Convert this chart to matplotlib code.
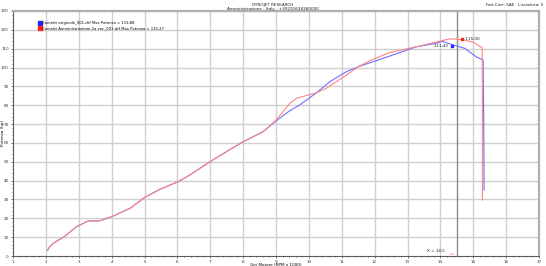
import matplotlib
matplotlib.use("Agg")
import matplotlib.pyplot as plt
from matplotlib.lines import Line2D
from matplotlib.transforms import offset_copy

# --- data ---
blue_rpm = [2.05, 2.1, 2.22, 2.53, 2.94, 3.29, 3.64, 4.05, 4.56, 5.01, 5.47, 6.02,
            6.38, 6.99, 7.6, 8.0, 8.61, 9.01, 9.42, 9.72, 10.23, 10.64, 11.14, 11.5,
            11.85, 12.46, 13.27, 13.88, 14.05, 14.5, 14.74, 15.09, 15.3, 15.32, 15.33]
blue_hp = [3.0, 4.6, 6.7, 9.9, 15.6, 18.6, 18.7, 21.2, 25.3, 31.1, 35.4, 39.4,
           43.0, 50.0, 56.5, 60.6, 66.0, 71.8, 77.1, 80.1, 86.6, 92.5, 97.8, 100.4,
           102.5, 106.1, 111.0, 112.9, 113.88, 111.43, 110.2, 105.7, 104.0, 70.0, 35.0]

red_rpm = [2.05, 2.1, 2.22, 2.53, 2.94, 3.29, 3.64, 4.05, 4.56, 5.01, 5.47, 6.02,
           6.38, 6.99, 7.6, 8.0, 8.61, 9.01, 9.42, 9.62, 10.23, 10.53, 11.14, 11.5,
           11.85, 12.46, 13.27, 13.88, 14.3, 14.5, 14.8, 15.05, 15.2, 15.27, 15.28, 15.28]
red_hp = [3.0, 4.4, 6.7, 9.9, 15.6, 18.6, 18.7, 21.2, 25.3, 31.1, 35.4, 39.4,
          43.0, 50.0, 56.5, 60.6, 66.0, 72.3, 81.0, 83.7, 86.6, 89.0, 96.0, 100.4,
          103.6, 108.0, 111.0, 113.6, 115.27, 115.0, 114.4, 113.0, 111.2, 110.5, 80.0, 29.7]

blue_name = "Cometti originale_001.drf Max Potenza = 113,88"
red_name = "Cometti Amministrazione 2a ver._001.drf Max Potenza = 115,27"
cursor_x = 14.5
blue_at_cursor = 111.43
red_at_cursor = 115.00

BLUE = "#6f6fff"
RED = "#ff8585"
FS = 3.0

fig = plt.figure(figsize=(5.46, 2.66), dpi=100)
ax = fig.add_axes([13 / 546, 10 / 266, 526 / 546, 245 / 266])

ax.set_xlim(1, 17)
ax.set_ylim(0, 130)
ax.set_xticks(range(1, 18))
ax.set_yticks(range(0, 131, 10))
ax.set_xticks([1 + i * 0.2 for i in range(81)], minor=True)
ax.set_yticks(range(0, 131, 2), minor=True)
ax.grid(True, which="major", color="#d0d0d0", lw=1.0)
ax.set_axisbelow(True)
ax.tick_params(which="both", labelsize=FS, length=1.5, width=0.5, pad=1.5, colors="#333333")
ax.tick_params(which="minor", length=1.0)
for s in ["top", "right"]:
    ax.spines[s].set_color("#b0b0b0")
    ax.spines[s].set_linewidth(1.6)
for s in ["left", "bottom"]:
    ax.spines[s].set_color("#555555")
    ax.spines[s].set_linewidth(0.7)

ax.axvline(cursor_x, color="#8a8a8a", lw=1.0, zorder=1)

ax.plot(blue_rpm, blue_hp, color=BLUE, lw=0.8, zorder=3)
ax.plot(red_rpm, red_hp, color=RED, lw=0.8, zorder=4)

# cursor markers, drawn a little to each side of the cursor line
t_left = offset_copy(ax.transData, fig=fig, x=-5, y=0, units="dots")
t_right = offset_copy(ax.transData, fig=fig, x=5, y=0, units="dots")
ax.plot([cursor_x], [blue_at_cursor], "s", color="#2323ff", ms=1.6, transform=t_left, zorder=5)
ax.plot([cursor_x], [red_at_cursor], "s", color="#ff2020", ms=1.6, transform=t_right, zorder=5)
ax.text(cursor_x, blue_at_cursor, f"{blue_at_cursor:.2f}".replace(".", ",") + "  ",
        transform=offset_copy(ax.transData, fig=fig, x=-6, y=0, units="dots"),
        ha="right", va="center", fontsize=FS, color="#222222")
ax.text(cursor_x, red_at_cursor, "  " + f"{red_at_cursor:.2f}".replace(".", ","),
        transform=offset_copy(ax.transData, fig=fig, x=6, y=0, units="dots"),
        ha="left", va="center", fontsize=FS, color="#222222")

ax.annotate("X = 14,5", xy=(cursor_x, 0.5), xytext=(13.85, 2.5),
            fontsize=FS, ha="center", va="center", color="#222222",
            arrowprops=dict(arrowstyle="-", color=RED, lw=0.5))

handles = [Line2D([], [], marker="s", ls="none", color="#2323ff", ms=2.2),
           Line2D([], [], marker="s", ls="none", color="#ff2020", ms=2.2)]
ax.legend(handles, [blue_name, red_name], loc="upper left",
          bbox_to_anchor=(0.045, 0.965), frameon=False, fontsize=2.7,
          handlelength=0.6, handletextpad=0.3, labelspacing=0.15, borderpad=0)

ax.set_xlabel("Giri Motore (RPM x 1000)", fontsize=FS, labelpad=0.5)
ax.xaxis.set_label_coords(0.5, -0.03)
ax.set_ylabel("Potenza (hp)", fontsize=FS)
ax.yaxis.set_label_coords(-0.016, 0.5)

fig.text(0.5, 0.988, "DYNOJET RESEARCH", ha="center", va="top", fontsize=FS, color="#222222")
fig.text(0.5, 0.972, "Amministrazione - Italy - +39231638380000", ha="center", va="top",
         fontsize=FS, color="#222222")
fig.text(0.995, 0.988, "Fatt.Corr: SAE   Lisciatura: 5", ha="right", va="top",
         fontsize=FS, color="#222222")

fig.savefig("out.png", dpi=100)
